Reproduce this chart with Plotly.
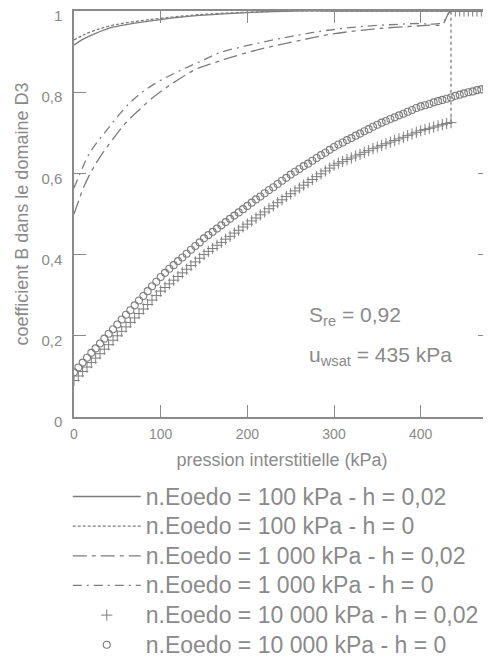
import plotly.graph_objects as go

# ---------------- data ----------------
# n.Eoedo = 100 kPa
x_100 = [0, 10, 25, 45, 70, 100, 145, 200, 250, 300, 400, 480]
b_100_h002 = [0.916, 0.930, 0.945, 0.960, 0.970, 0.979, 0.989, 0.996, 1.0, 1.0, 1.0, 1.0]
b_100_h0 = [0.929, 0.940, 0.953, 0.965, 0.974, 0.982, 0.991, 0.997, 1.0, 1.0, 1.0, 1.0]

# n.Eoedo = 1 000 kPa
x_1000_h002 = [0, 5, 10, 20, 30, 45, 60, 76, 90, 111, 141, 157, 180, 215, 253, 297, 353, 411, 425, 435, 480]
b_1000_h002 = [0.500, 0.530, 0.560, 0.605, 0.640, 0.685, 0.725, 0.758, 0.785, 0.818, 0.857, 0.869,
               0.885, 0.906, 0.924, 0.943, 0.957, 0.965, 0.967, 1.0, 1.0]
x_1000_h0 = [0, 5, 10, 18, 38, 66, 91, 126, 149, 168, 215, 257, 291, 333, 391, 425, 435, 480]
b_1000_h0 = [0.564, 0.590, 0.615, 0.650, 0.707, 0.777, 0.818, 0.857, 0.879, 0.897, 0.922, 0.940,
             0.952, 0.962, 0.969, 0.972, 1.0, 1.0]

# n.Eoedo = 10 000 kPa (markers every 5 kPa)
x_10000_h0 = list(range(0, 485, 5))
b_10000_h0 = [
    0.110, 0.122, 0.134, 0.146, 0.158, 0.169, 0.181, 0.193, 0.205, 0.216,
    0.228, 0.240, 0.252, 0.263, 0.275, 0.287, 0.298, 0.310, 0.322, 0.333,
    0.345, 0.355, 0.365, 0.374, 0.384, 0.393, 0.402, 0.412, 0.421, 0.430,
    0.440, 0.448, 0.456, 0.464, 0.472, 0.480, 0.488, 0.496, 0.504, 0.512,
    0.520, 0.528, 0.536, 0.543, 0.551, 0.559, 0.566, 0.574, 0.582, 0.589,
    0.597, 0.604, 0.611, 0.618, 0.624, 0.631, 0.638, 0.645, 0.651, 0.658,
    0.665, 0.671, 0.676, 0.682, 0.687, 0.693, 0.698, 0.704, 0.709, 0.715,
    0.720, 0.725, 0.729, 0.734, 0.738, 0.743, 0.747, 0.752, 0.756, 0.761,
    0.765, 0.768, 0.771, 0.775, 0.778, 0.781, 0.784, 0.787, 0.791, 0.794,
    0.797, 0.800, 0.802, 0.805, 0.807, 0.810, 0.812,
]
x_10000_h002 = list(range(0, 485, 5))
b_10000_h002 = [
    0.090, 0.101, 0.112, 0.123, 0.134, 0.145, 0.156, 0.167, 0.178, 0.189,
    0.200, 0.211, 0.222, 0.233, 0.244, 0.255, 0.266, 0.277, 0.288, 0.299,
    0.310, 0.319, 0.328, 0.337, 0.346, 0.355, 0.364, 0.373, 0.382, 0.391,
    0.400, 0.408, 0.415, 0.423, 0.430, 0.438, 0.445, 0.453, 0.460, 0.468,
    0.475, 0.483, 0.490, 0.498, 0.505, 0.513, 0.520, 0.528, 0.535, 0.543,
    0.550, 0.557, 0.564, 0.571, 0.578, 0.585, 0.592, 0.599, 0.606, 0.613,
    0.620, 0.625, 0.629, 0.634, 0.638, 0.643, 0.647, 0.652, 0.656, 0.661,
    0.665, 0.669, 0.673, 0.677, 0.681, 0.685, 0.689, 0.693, 0.697, 0.701,
    0.705, 0.708, 0.711, 0.714, 0.717, 0.720, 0.723, 0.725,
    1.0, 1.0, 1.0, 1.0, 1.0, 1.0, 1.0, 1.0, 1.0,
]
# saturation jump at u_wsat
x_sat = [435, 435]
b_sat = [0.725, 1.0]

x_ticks = [0, 100, 200, 300, 400]
x_ticktext = ["0", "100", "200", "300", "400"]
y_ticks = [0, 0.2, 0.4, 0.6, 0.8, 1]
y_ticktext = ["0", "0,2", "0,4", "0,6", "0,8", "1"]

names = [
    "n.Eoedo = 100 kPa - h = 0,02",
    "n.Eoedo = 100 kPa - h = 0",
    "n.Eoedo = 1 000 kPa - h = 0,02",
    "n.Eoedo = 1 000 kPa - h = 0",
    "n.Eoedo = 10 000 kPa - h = 0,02",
    "n.Eoedo = 10 000 kPa - h = 0",
]

LINE = "#7d7d7d"
TEXT = "#8a8a8a"
FONT = "Liberation Sans, Arial, sans-serif"


def big(s):
    return '<span style="font-size:23px">' + s + "</span>"


fig = go.Figure()
fig.add_trace(go.Scatter(x=x_100, y=b_100_h002, mode="lines", name=big(names[0]), legendgroup="a",
                         line=dict(color=LINE, width=1.3, shape="spline")))
fig.add_trace(go.Scatter(x=x_100, y=b_100_h0, mode="lines", name=big(names[1]), legendgroup="b",
                         line=dict(color=LINE, width=1.3, dash="3px,2px", shape="spline")))
fig.add_trace(go.Scatter(x=x_1000_h002, y=b_1000_h002, mode="lines", name=big(names[2]), legendgroup="c",
                         line=dict(color=LINE, width=1.3, dash="14px,5px,4px,5px", shape="spline")))
fig.add_trace(go.Scatter(x=x_1000_h0, y=b_1000_h0, mode="lines", name=big(names[3]), legendgroup="d",
                         line=dict(color=LINE, width=1.3, dash="9px,5px,2px,5px", shape="spline")))
fig.add_trace(go.Scatter(x=x_10000_h002, y=b_10000_h002, mode="markers", name=big(names[4]), legendgroup="e",
                         marker=dict(symbol="cross-thin-open", size=8, color=LINE,
                                     line=dict(color=LINE, width=1))))
fig.add_trace(go.Scatter(x=x_10000_h0, y=b_10000_h0, mode="markers", name=big(names[5]), legendgroup="f",
                         marker=dict(symbol="circle-open", size=7, color=LINE,
                                     line=dict(color=LINE, width=1.1))))
fig.add_trace(go.Scatter(x=x_sat, y=b_sat, mode="lines", showlegend=False,
                         line=dict(color=LINE, width=1.3, dash="3px,3px")))

fig.add_annotation(x=269, y=0.25, xref="x", yref="y", xanchor="left", showarrow=False,
                   text="S<sub>re</sub> = 0,92", font=dict(size=21, color=TEXT, family=FONT))
fig.add_annotation(x=269, y=0.15, xref="x", yref="y", xanchor="left", showarrow=False,
                   text="u<sub>wsat</sub> = 435 kPa", font=dict(size=21, color=TEXT, family=FONT))

axis_common = dict(showgrid=False, zeroline=False, showline=True, linecolor="#8a8a8a", linewidth=1.5,
                   mirror="ticks", ticks="inside", ticklen=12, tickcolor="#8a8a8a", tickwidth=1.2,
                   automargin=False, ticklabeloverflow="allow")

fig.update_xaxes(range=[0, 480], tickvals=x_ticks, ticktext=x_ticktext,
                 tickfont=dict(size=14, color=TEXT, family=FONT), ticklabelstandoff=3,
                 title=dict(text="pression interstitielle (kPa)", font=dict(size=18, color=TEXT, family=FONT),
                            standoff=13),
                 **axis_common)
fig.update_yaxes(range=[0, 1], tickvals=y_ticks, ticktext=y_ticktext,
                 tickfont=dict(size=15, color=TEXT, family=FONT), ticklabelstandoff=7,
                 ticklabelshift=5,
                 title=dict(text="coefficient B dans le domaine D3", font=dict(size=18, color=TEXT, family=FONT),
                            standoff=8),
                 **axis_common)

# the page body adds an 8 px offset, so the figure is 8 px smaller than the window
fig.update_layout(
    width=483, height=661,
    margin=dict(l=66, r=1, t=2.5, b=252),
    paper_bgcolor="white", plot_bgcolor="white",
    font=dict(family=FONT, color=TEXT),
    showlegend=True,
    legend=dict(x=-0.015, xanchor="left", y=-0.147, yanchor="top", orientation="v",
                font=dict(size=20.5, color=TEXT, family=FONT), itemwidth=68,
                tracegroupgap=0, bgcolor="rgba(0,0,0,0)"),
)

fig.write_html("out.html")
